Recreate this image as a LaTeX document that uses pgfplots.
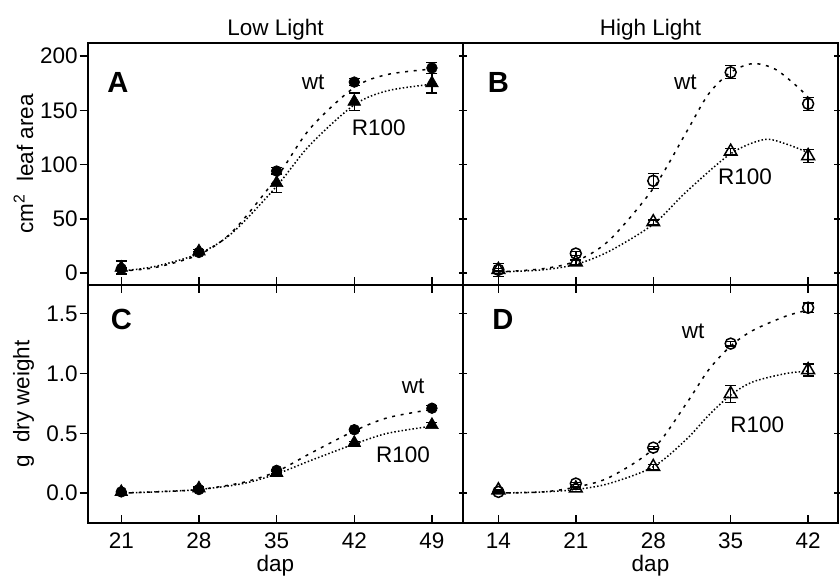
\documentclass[border=0pt]{standalone}
\usepackage{fontspec}
\setmainfont{Liberation Sans}
\usepackage{pgfplots}
\pgfplotsset{compat=1.18}
\usepgfplotslibrary{groupplots}
\pgfplotsset{
  every tick label/.append style={font=\fontsize{13.5}{15}\selectfont},
  every axis label/.append style={font=\fontsize{13.5}{15}\selectfont},
  every axis title/.append style={font=\fontsize{13.5}{15}\selectfont},
  wtc/.style={black, line width=0.9pt, dash pattern=on 1.8pt off 3.4pt, smooth, tension=0.5, forget plot},
  rc/.style={black, line width=0.9pt, dash pattern=on 0.9pt off 1.3pt, smooth, tension=0.5, forget plot},
  ebar/.style={error bars/.cd, y dir=both, y explicit, error bar style={line width=0.8pt}, error mark options={rotate=90, mark size=3.3pt, line width=0.8pt}},
}
\tikzset{
  panel/.style={font=\fontsize{17.5}{19}\bfseries\selectfont},
  ann/.style={font=\fontsize{13.5}{15}\selectfont},
}
\begin{document}
\begin{tikzpicture}
\begin{groupplot}[
  group style={group size=2 by 2, horizontal sep=0pt, vertical sep=0pt},
  width=225pt, scale only axis,
  axis line style={line width=1pt},
  major tick length=5pt,
  every tick/.style={black, line width=0.9pt},
  /pgf/number format/assume math mode=true,
  xtick align=inside,
  yticklabel style={inner sep=1pt},
  xticklabel style={yshift=-2.5pt},
  clip=false,
]
% ---------- A ----------
\nextgroupplot[
  height=145.2pt,
  xmin=18, xmax=51.8, ymin=-11, ymax=212,
  xtick={21,28,35,42,49}, xticklabels={}, xtick pos=bottom,
  ytick={0,50,100,150,200}, ytick pos=left, ytick align=outside,
  title={Low Light}, title style={yshift=-8pt},
  ylabel={cm\textsuperscript{2}\ \ leaf area},
  ylabel style={at={(axis description cs:-0.172,0.5)}, anchor=center},
]
\addplot[wtc] coordinates {(21,2) (24,5) (28,17) (31,38) (35,88) (38,133) (42,171) (45,183) (49,188)};
\addplot[rc] coordinates {(21,2) (24,6) (28,18) (31,37) (35,80) (38,118) (42,155) (45,168) (49,174)};
\addplot[only marks, mark=*, mark size=3.2pt, black, ebar] coordinates {
  (21,4) +- (0,1) (28,19) +- (0,1) (35,94) +- (0,3) (42,176) +- (0,3) (49,189) +- (0,5)};
\addplot[only marks, mark=triangle*, mark size=4.4pt, black, ebar] coordinates {
  (21,5) +- (0,6) (28,20) +- (0,2) (35,83) +- (0,9) (42,158) +- (0,8) (49,175) +- (0,9)};
\node[panel] at (axis cs:20.7,176) {A};
\node[ann] at (axis cs:38.3,176) {wt};
\node[ann] at (axis cs:44.2,134) {R100};
% ---------- B ----------
\nextgroupplot[
  height=145.2pt,
  xmin=10.8, xmax=44.7, ymin=-11, ymax=212,
  xtick={14,21,28,35,42}, xticklabels={}, xtick pos=bottom,
  ytick={0,50,100,150,200}, yticklabels={}, ytick pos=both, ytick align=center,
  title={High Light}, title style={yshift=-8pt},
]
\addplot[wtc] coordinates {(14,1) (18,4) (21,11) (24,30) (28,78) (31,130) (33,165) (35,185) (37,193) (39,188) (41,172) (42,162)};
\addplot[rc] coordinates {(14,1) (18,3) (21,8) (24,20) (28,45) (31,75) (35,110) (38,123) (40,119) (42,111)};
\addplot[only marks, mark=o, mark size=3.3pt, black, line width=0.9pt, ebar] coordinates {
  (14,3) +- (0,1) (21,18) +- (0,2) (28,85) +- (0,7) (35,185) +- (0,6) (42,156) +- (0,6)};
\addplot[only marks, mark=triangle, mark size=4.4pt, black, line width=0.9pt, ebar] coordinates {
  (14,3) +- (0,6) (21,10) +- (0,2) (28,47) +- (0,2) (35,112) +- (0,3) (42,108) +- (0,6)};
\node[panel] at (axis cs:14,176) {B};
\node[ann] at (axis cs:30.9,176) {wt};
\node[ann] at (axis cs:36.3,89) {R100};
% ---------- C ----------
\nextgroupplot[
  height=142.8pt,
  xmin=18, xmax=51.8, ymin=-0.25, ymax=1.74,
  xtick={21,28,35,42,49}, xtick pos=both,
  ytick={0,0.5,1.0,1.5}, ytick pos=left, ytick align=outside,
  yticklabel style={/pgf/number format/.cd, fixed, fixed zerofill, precision=1},
  xlabel={dap}, xlabel style={yshift=3pt},
  ylabel={g\ \ dry weight},
  ylabel style={at={(axis description cs:-0.172,0.5)}, anchor=center},
]
\addplot[wtc] coordinates {(21,0.0) (24,0.01) (28,0.03) (32,0.09) (35,0.18) (38,0.33) (42,0.52) (45,0.63) (49,0.70)};
\addplot[rc] coordinates {(21,0.0) (24,0.01) (28,0.03) (32,0.08) (35,0.16) (38,0.27) (42,0.41) (45,0.50) (49,0.56)};
\addplot[only marks, mark=*, mark size=3.2pt, black, ebar] coordinates {
  (21,0.01) +- (0,0) (28,0.03) +- (0,0.01) (35,0.19) +- (0,0.01) (42,0.53) +- (0,0.01) (49,0.71) +- (0,0.02)};
\addplot[only marks, mark=triangle*, mark size=4.4pt, black, ebar] coordinates {
  (21,0.01) +- (0,0) (28,0.04) +- (0,0.01) (35,0.17) +- (0,0.01) (42,0.42) +- (0,0.01) (49,0.57) +- (0,0.02)};
\node[panel] at (axis cs:21,1.45) {C};
\node[ann] at (axis cs:47.3,0.89) {wt};
\node[ann] at (axis cs:46.4,0.32) {R100};
% ---------- D ----------
\nextgroupplot[
  height=142.8pt,
  xmin=10.8, xmax=44.7, ymin=-0.25, ymax=1.74,
  xtick={14,21,28,35,42}, xtick pos=both,
  ytick={0,0.5,1.0,1.5}, yticklabels={}, ytick pos=both, ytick align=center,
  xlabel={dap}, xlabel style={yshift=3pt},
]
\addplot[wtc] coordinates {(14,0.0) (18,0.01) (21,0.05) (24,0.13) (28,0.37) (31,0.75) (33,1.03) (35,1.23) (37,1.36) (40,1.48) (42,1.53)};
\addplot[rc] coordinates {(14,0.0) (18,0.01) (21,0.03) (24,0.08) (28,0.22) (31,0.45) (33,0.65) (35,0.82) (37,0.93) (40,1.0) (42,1.02)};
\addplot[only marks, mark=o, mark size=3.3pt, black, line width=0.9pt, ebar] coordinates {
  (14,0.01) +- (0,0) (21,0.08) +- (0,0.01) (28,0.38) +- (0,0.01) (35,1.25) +- (0,0.02) (42,1.55) +- (0,0.04)};
\addplot[only marks, mark=triangle, mark size=4.4pt, black, line width=0.9pt, ebar] coordinates {
  (14,0.025) +- (0,0) (21,0.04) +- (0,0.01) (28,0.22) +- (0,0.02) (35,0.83) +- (0,0.07) (42,1.03) +- (0,0.05)};
\node[panel] at (axis cs:14.4,1.45) {D};
\node[ann] at (axis cs:31.6,1.35) {wt};
\node[ann] at (axis cs:37.4,0.57) {R100};
\end{groupplot}
\pgfresetboundingbox
\path ([xshift=-52.8pt,yshift=25.8pt]group c1r1.north west) rectangle ([xshift=1.2pt,yshift=-31.8pt]group c2r2.south east);
\end{tikzpicture}
\end{document}
